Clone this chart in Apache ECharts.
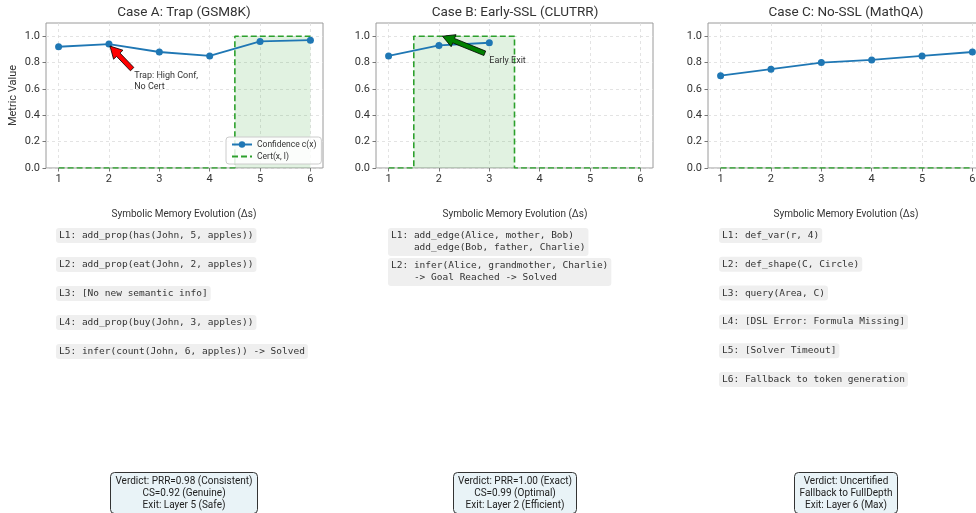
<!DOCTYPE html>
<html>
<head>
<meta charset="utf-8">
<script src="https://cdn.jsdelivr.net/npm/echarts@6/dist/echarts.min.js"></script>
<style>html,body{margin:0;padding:0;background:#fff}#c{width:976px;height:513px}</style>
</head>
<body>
<div id="c"></div>
<script>
// ---- data ----
const layers = [1, 2, 3, 4, 5, 6];
const xTicks = [1, 2, 3, 4, 5, 6];
const yTicks = [0, 0.2, 0.4, 0.6, 0.8, 1.0];
const panelTitles = ['Case A: Trap (GSM8K)', 'Case B: Early-SSL (CLUTRR)', 'Case C: No-SSL (MathQA)'];
const confA = [0.92, 0.94, 0.88, 0.85, 0.96, 0.97];
const certA = [0, 0, 0, 0, 1, 1];
const confB = [0.85, 0.93, 0.95];
const certB = [0, 1, 1, 0, 0, 0];
const confC = [0.70, 0.75, 0.80, 0.82, 0.85, 0.88];
const certC = [0, 0, 0, 0, 0, 0];
const memA = ['L1: add_prop(has(John, 5, apples))', 'L2: add_prop(eat(John, 2, apples))', 'L3: [No new semantic info]', 'L4: add_prop(buy(John, 3, apples))', 'L5: infer(count(John, 6, apples)) -> Solved'];
const memB = ['L1: add_edge(Alice, mother, Bob)\n    add_edge(Bob, father, Charlie)', 'L2: infer(Alice, grandmother, Charlie)\n    -> Goal Reached -> Solved'];
const memC = ['L1: def_var(r, 4)', 'L2: def_shape(C, Circle)', 'L3: query(Area, C)', 'L4: [DSL Error: Formula Missing]', 'L5: [Solver Timeout]', 'L6: Fallback to token generation'];
const verdicts = ['Verdict: PRR=0.98 (Consistent)\nCS=0.92 (Genuine)\nExit: Layer 5 (Safe)', 'Verdict: PRR=1.00 (Exact)\nCS=0.99 (Optimal)\nExit: Layer 2 (Efficient)', 'Verdict: Uncertified\nFallback to FullDepth\nExit: Layer 6 (Max)'];
const annA = { text: 'Trap: High Conf,\nNo Cert', tail: [2.46, 0.75], head: [2.02, 0.925], at: [2.5, 0.745] };
const annB = { text: 'Early Exit', tail: [2.91, 0.87], head: [2.07, 1.0], at: [3.0, 0.855] };

// ---- layout ----
const FONT = 'Roboto, "Noto Sans", sans-serif';
const MONO = '"DejaVu Sans Mono", monospace';
const gridLefts = [46, 376, 708];
const centers = [184, 515, 846];
const GW = 277, GT = 23, GH = 145;

const chart = echarts.init(document.getElementById('c'), null, { renderer: 'canvas' });

const grids = gridLefts.map((l, i) => ({
  left: l, top: GT, width: GW, height: GH, show: true, borderColor: '#9a9a9a', borderWidth: 1,
  backgroundColor: 'transparent', containLabel: false, outerBoundsMode: 'none'
}));
const xAxes = gridLefts.map((l, i) => ({
  gridIndex: i, type: 'value', min: 0.75, max: 6.25,
  axisLine: { show: false },
  axisTick: { show: true, customValues: xTicks, length: 3.5, lineStyle: { color: '#777' } },
  axisLabel: { customValues: xTicks, margin: 6, fontSize: 11, color: '#333', fontFamily: FONT },
  splitLine: { show: true, lineStyle: { type: [3, 3], color: '#dcdcdc', width: 0.8 } }
}));
const yAxes = gridLefts.map((l, i) => ({
  gridIndex: i, type: 'value', min: 0, max: 1.1, interval: 0.2,
  name: i === 0 ? 'Metric Value' : '', nameLocation: 'middle', nameGap: 27, nameRotate: 90,
  nameTextStyle: { fontSize: 11, color: '#333', fontFamily: FONT },
  axisLine: { show: false },
  axisTick: { show: true, customValues: yTicks, length: 3.5, lineStyle: { color: '#777' } },
  axisLabel: { customValues: yTicks, margin: 6, fontSize: 11, color: '#333', fontFamily: FONT, formatter: v => v.toFixed(1) },
  splitLine: { show: true, lineStyle: { type: [3, 3], color: '#dcdcdc', width: 0.8 } }
}));

function confSeries(i, vals) {
  return {
    type: 'line', name: 'Confidence c(x)', xAxisIndex: i, yAxisIndex: i,
    data: vals.map((v, j) => [layers[j], v]),
    symbol: 'circle', symbolSize: 7, showSymbol: true,
    lineStyle: { color: '#1f77b4', width: 1.8 }, itemStyle: { color: '#1f77b4' }, z: 4, animation: false
  };
}
function certSeries(i, vals) {
  return {
    type: 'line', name: 'Cert(x, l)', xAxisIndex: i, yAxisIndex: i, step: 'middle',
    data: vals.map((v, j) => [layers[j], v]),
    symbol: 'none', lineStyle: { color: '#2ca02c', width: 1.6, type: [6, 3] },
    itemStyle: { color: '#2ca02c' },
    areaStyle: { color: 'rgba(44,160,44,0.2)', origin: 'start' }, z: 3, animation: false
  };
}
function arrowSeries(i, ann, color) {
  return {
    type: 'custom', xAxisIndex: i, yAxisIndex: i, silent: true, z: 6, animation: false, clip: false,
    data: [[ann.tail[0], ann.tail[1], ann.head[0], ann.head[1], ann.at[0], ann.at[1]]],
    encode: { x: [0, 2, 4], y: [1, 3, 5] },
    renderItem: function (params, api) {
      const p0 = api.coord([api.value(0), api.value(1)]);
      const p1 = api.coord([api.value(2), api.value(3)]);
      const pt = api.coord([api.value(4), api.value(5)]);
      const dx = p1[0] - p0[0], dy = p1[1] - p0[1];
      const L = Math.sqrt(dx * dx + dy * dy);
      const ux = dx / L, uy = dy / L, nx = -uy, ny = ux;
      const hl = 12, hw = 6.5, bw = 2.4;
      const bx = p1[0] - ux * hl, by = p1[1] - uy * hl;
      const pts = [
        [p0[0] + nx * bw, p0[1] + ny * bw], [bx + nx * bw, by + ny * bw], [bx + nx * hw, by + ny * hw],
        [p1[0], p1[1]],
        [bx - nx * hw, by - ny * hw], [bx - nx * bw, by - ny * bw], [p0[0] - nx * bw, p0[1] - ny * bw]
      ];
      return {
        type: 'group', children: [
          { type: 'text', x: pt[0], y: pt[1], style: { text: ann.text, fill: '#333', font: '9px ' + FONT, align: 'left', verticalAlign: 'top', lineHeight: 11 } },
          { type: 'polygon', shape: { points: pts }, style: { fill: color, stroke: '#000', lineWidth: 0.8 } }
        ]
      };
    }
  };
}

const titles = [];
panelTitles.forEach((t, i) => titles.push({ text: t, left: centers[i], top: 6, textAlign: 'center', padding: 0, textStyle: { fontSize: 13.5, fontWeight: 'normal', color: '#333', fontFamily: FONT } }));
centers.forEach(c => titles.push({ text: 'Symbolic Memory Evolution (\u0394s)', left: c, top: 209, textAlign: 'center', padding: 0, textStyle: { fontSize: 10, fontWeight: 'normal', color: '#333', fontFamily: FONT } }));
function memBox(text, left, top, lh) {
  return { text: text, left: left, top: top, padding: [2, 3], backgroundColor: '#efefef', borderRadius: 3, textStyle: { fontSize: 9.5, fontWeight: 'normal', color: '#333', fontFamily: MONO, lineHeight: lh } };
}
memA.forEach((t, j) => titles.push(memBox(t, 56, 228 + j * 29, 11)));
memB.forEach((t, j) => titles.push(memBox(t, 388, [228, 258][j], 12)));
memC.forEach((t, j) => titles.push(memBox(t, 719, 228 + j * 28.8, 11)));
verdicts.forEach((t, i) => titles.push({ text: t, left: centers[i] - 5, top: 472, textAlign: 'center', padding: [3, 5], backgroundColor: '#e9f3f7', borderColor: '#333', borderWidth: 1, borderRadius: 4, textStyle: { fontSize: 10, fontWeight: 'normal', color: '#222', fontFamily: FONT, lineHeight: 12, align: 'center' } }));

const option = {
  animation: false,
  backgroundColor: '#fff',
  title: titles,
  grid: grids, xAxis: xAxes, yAxis: yAxes,
  legend: {
    data: ['Confidence c(x)', { name: 'Cert(x, l)', itemStyle: { opacity: 0 } }], orient: 'vertical', left: 226, top: 137,
    itemWidth: 20, itemHeight: 8, itemGap: 3, padding: [3, 5], borderColor: '#ccc', borderWidth: 1, borderRadius: 3,
    backgroundColor: 'rgba(255,255,255,0.85)', textStyle: { fontSize: 8.5, color: '#333', fontFamily: FONT }
  },
  series: [
    certSeries(0, certA), confSeries(0, confA), arrowSeries(0, annA, '#ff0000'),
    certSeries(1, certB), confSeries(1, confB), arrowSeries(1, annB, '#008000'),
    certSeries(2, certC), confSeries(2, confC)
  ]
};
chart.setOption(option);
</script>
</body>
</html>
